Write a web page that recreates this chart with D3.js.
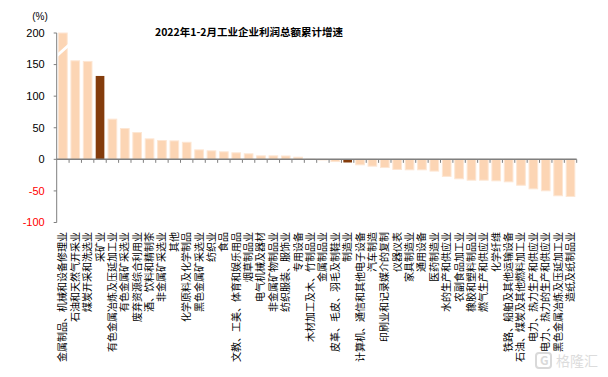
<!DOCTYPE html>
<meta charset="utf-8">
<head>
  <meta charset="UTF-8" />
  <title>工业企业利润总额累计增速</title>
  <script src="https://d3js.org/d3.v7.min.js"></script>
</head>
<style>
  body { margin: 0; background: #fff; }
  text { font-family: "Liberation Sans", Arial, "Noto Sans CJK SC", sans-serif; }
  .cjk { font-family: "Noto Sans CJK SC", sans-serif; }
</style>
<div id="my_dataviz"></div>
<script>

  var industries = ["金属制品、机械和设备修理业", "石油和天然气开采业", "煤炭开采和洗选业", "采矿业",
    "有色金属冶炼及压延加工业", "有色金属矿采选业", "废弃资源综合利用业", "酒、饮料和精制茶",
    "非金属矿采选业", "其他", "化学原料及化学制品", "黑色金属矿采选业", "纺织业", "食品",
    "文教、工美、体育和娱乐用品", "烟草制品业", "电气机械及器材", "非金属矿物制品业",
    "纺织服装、服饰业", "专用设备", "木材加工及木、竹制品业", "金属制品业", "皮革、毛皮、羽毛及制鞋业",
    "制造业", "计算机、通信和其他电子设备", "汽车制造", "印刷业和记录媒介的复制", "仪器仪表",
    "家具制造业", "通用设备", "医药制造业", "水的生产和供应业", "农副食品加工业", "橡胶和塑料制品业",
    "燃气生产和供应业", "化学纤维", "铁路、船舶及其他运输设备", "石油、煤炭及其他燃料加工业",
    "电力、热力生产和供应业", "电力、热力的生产和供应业", "黑色金属冶炼及压延加工业", "造纸及纸制品业"]

  // growth (%), first value runs off the top of the axis
  var growth = [250, 156, 155, 132, 63.6, 48.8, 42.4, 32.4, 29.8, 29.2, 27, 15, 13.4, 11.9, 10.3, 8.7,
    5.5, 5.5, 5.3, 3.4, 0.2, -1, -3.5, -5, -8.7, -10.8, -13, -16, -16.6, -16.6, -18.6, -27, -30.8,
    -33, -33, -34, -35.6, -41, -46.7, -49.8, -57.7, -58.8]

  var highlighted = ["采矿业", "制造业"]
  var yTicks = [-100, -50, 0, 50, 100, 150, 200]

  var width = 608, height = 377
  var plotLeft = 56.7, plotRight = 576.7, plotTop = 33, plotBottom = 222.5

  var data = industries.map((d, i) => ({name: d, value: growth[i]}))

  var svg = d3.select("#my_dataviz")
    .append("svg")
      .attr("width", width)
      .attr("height", height)

  var x = d3.scaleBand()
    .domain(industries)
    .range([plotLeft, plotRight])
    .paddingInner(0.3)
    .paddingOuter(0.15)

  var y = d3.scaleLinear()
    .domain([-100, 200])
    .range([plotBottom, plotTop])
    .clamp(true)

  // bars
  svg.selectAll("rect.bar")
    .data(data)
    .join("rect")
      .attr("class", "bar")
      .attr("x", d => x(d.name))
      .attr("width", x.bandwidth())
      .attr("y", d => y(Math.max(0, d.value)))
      .attr("height", d => Math.abs(y(d.value) - y(0)))
      .attr("fill", d => highlighted.includes(d.name) ? "#843c0c" : "#fcd5b4")
      .attr("stroke", d => highlighted.includes(d.name) ? "none" : "#fde6d3")
      .attr("stroke-width", 1)

  // break mark on the bar that exceeds the axis
  data.filter(d => d.value > 200).forEach(d => {
    var x0 = x(d.name) - 1, x1 = x(d.name) + x.bandwidth() + 1
    svg.append("path")
      .attr("d", d3.line()([[x0, y(168)], [x1, y(183)], [x1, y(177)], [x0, y(162)]]))
      .attr("fill", "#fff")
  })

  // y axis
  svg.append("line")
    .attr("x1", plotLeft).attr("x2", plotLeft)
    .attr("y1", plotTop).attr("y2", plotBottom)
    .attr("stroke", "#7f7f7f")
    .attr("stroke-width", 1)

  svg.selectAll("line.ytick")
    .data(yTicks)
    .join("line")
      .attr("class", "ytick")
      .attr("x1", plotLeft - 3).attr("x2", plotLeft)
      .attr("y1", d => y(d)).attr("y2", d => y(d))
      .attr("stroke", "#7f7f7f")

  svg.selectAll("text.ylab")
    .data(yTicks)
    .join("text")
      .attr("class", "ylab")
      .attr("x", plotLeft - 12)
      .attr("y", d => y(d))
      .attr("dy", "0.35em")
      .attr("text-anchor", "end")
      .attr("font-size", 11)
      .attr("fill", d => d < 0 ? "#ff0000" : "#000")
      .text(d => d)

  // zero line with category ticks
  svg.append("line")
    .attr("x1", plotLeft).attr("x2", plotRight)
    .attr("y1", y(0)).attr("y2", y(0))
    .attr("stroke", "#7f7f7f")
    .attr("stroke-width", 1.5)

  svg.selectAll("line.xtick")
    .data(industries)
    .join("line")
      .attr("class", "xtick")
      .attr("x1", d => x(d) - x.step() * 0.15 + x.step())
      .attr("x2", d => x(d) - x.step() * 0.15 + x.step())
      .attr("y1", y(0)).attr("y2", y(0) + 3.5)
      .attr("stroke", "#7f7f7f")

  // category labels, vertical
  svg.selectAll("text.xlab")
    .data(industries)
    .join("text")
      .attr("class", "xlab cjk")
      .attr("transform", d => "translate(" + (x(d) + x.bandwidth() / 2) + ",232) rotate(-90)")
      .attr("dy", "0.35em")
      .attr("text-anchor", "end")
      .attr("font-size", 10)
      .attr("fill", "#000")
      .text(d => d)

  // title and unit
  svg.append("text")
    .attr("class", "cjk")
    .attr("x", 249)
    .attr("y", 35.5)
    .attr("text-anchor", "middle")
    .attr("font-size", 10.5)
    .attr("font-weight", "bold")
    .text("2022年1-2月工业企业利润总额累计增速")

  svg.append("text")
    .attr("x", 40)
    .attr("y", 20)
    .attr("text-anchor", "middle")
    .attr("font-size", 10)
    .text("(%)")

  // watermark
  svg.append("rect")
    .attr("x", 536).attr("y", 353)
    .attr("width", 15).attr("height", 15)
    .attr("rx", 3)
    .attr("fill", "none")
    .attr("stroke", "#d9d9d9")
    .attr("stroke-width", 2)
  svg.append("text")
    .attr("class", "cjk")
    .attr("x", 540).attr("y", 365)
    .attr("font-size", 12)
    .attr("font-weight", "bold")
    .attr("fill", "#d9d9d9")
    .text("G")
  svg.append("text")
    .attr("class", "cjk")
    .attr("x", 556).attr("y", 366)
    .attr("font-size", 14)
    .attr("fill", "#dcdcdc")
    .text("格隆汇")
</script>
